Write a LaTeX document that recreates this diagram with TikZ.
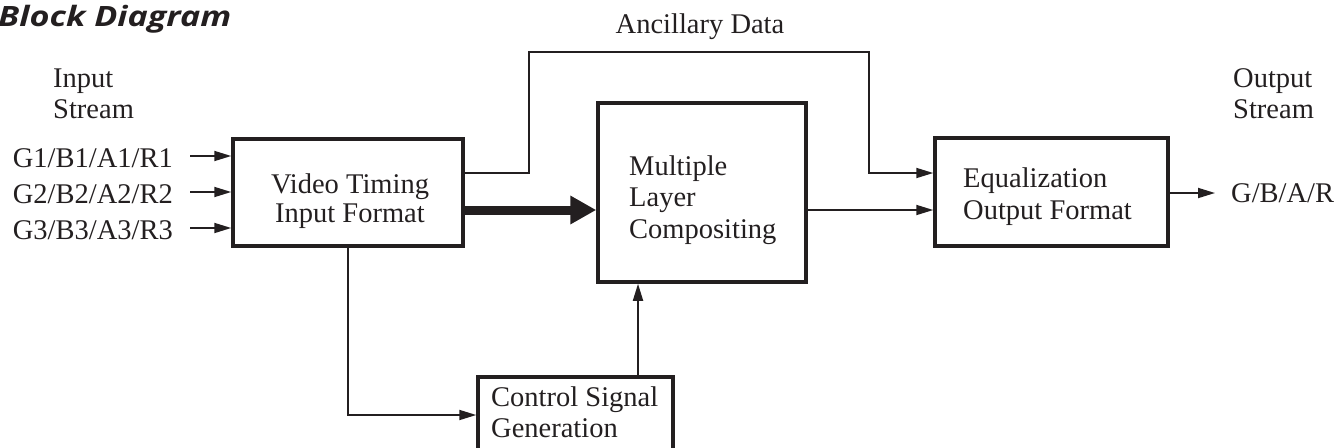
\documentclass[tikz,border=0pt]{standalone}
\usepackage{fontspec}
\setmainfont{Liberation Serif}
\newfontfamily\titlefont{Open Sans}
\usetikzlibrary{arrows.meta}
\definecolor{ink}{RGB}{35,31,32}
\begin{document}
\begin{tikzpicture}[x=1pt,y=-1pt,
  every node/.style={font=\fontsize{28.5}{31}\selectfont, text=ink, inner sep=0pt},
  box/.style={draw=ink, line width=3.5pt, rectangle, inner sep=0pt},
  wire/.style={draw=ink, line width=1.8pt, -{Triangle[length=17pt,width=10pt]}},
  bigarrow/.style={draw=ink, line width=9pt, -{Triangle[length=26pt,width=27pt]}},
  lbl/.style={anchor=base west}]
\useasboundingbox (0,0) rectangle (1337,447);

% title
\node[anchor=base west, xscale=1.22, font=\titlefont\bfseries\itshape\fontsize{28}{30}\selectfont] (title) at (-2,27) {Block Diagram};

% boxes
\node[box, minimum width=230pt, minimum height=107pt] (vt) at (348,192.5) {};
\node[box, minimum width=208pt, minimum height=179pt] (mlc) at (702,192.5) {};
\node[box, minimum width=233pt, minimum height=108pt] (eq) at (1051.5,192) {};
\node[box, minimum width=195pt, minimum height=93pt] (csg) at (575.5,423.5) {};

% box texts
\node[anchor=base] (vt1) at (350,193) {Video Timing};
\node[anchor=base] (vt2) at (350,222) {Input Format};
\node[lbl] (m1) at (629,175) {Multiple};
\node[lbl] (m2) at (629,206) {Layer};
\node[lbl] (m3) at (629,238) {Compositing};
\node[lbl] (e1) at (963,187) {Equalization};
\node[lbl] (e2) at (963,219) {Output Format};
\node[lbl] (c1) at (491,406) {Control Signal};
\node[lbl] (c2) at (491,437) {Generation};

% outside labels
\node[lbl] (is1) at (53,87) {Input};
\node[lbl] (is2) at (53,118) {Stream};
\node[lbl] (os1) at (1233,87) {Output};
\node[lbl] (os2) at (1233,118) {Stream};
\node[anchor=base] (anc) at (700,33) {Ancillary Data};
\node[anchor=base east] (g1) at (173,167) {G1/B1/A1/R1};
\node[anchor=base east] (g2) at (173,203) {G2/B2/A2/R2};
\node[anchor=base east] (g3) at (173,239) {G3/B3/A3/R3};
\node[lbl] (out) at (1231,202) {G/B/A/R};

% coordinates
\coordinate (i1) at (190,156);
\coordinate (i2) at (190,192);
\coordinate (i3) at (190,228);
\coordinate (a0) at (0,173);
\coordinate (a1) at (529,173);
\coordinate (a2) at (529,52);
\coordinate (a3) at (869,52);
\coordinate (a4) at (869,173);
\coordinate (t0) at (0,210);
\coordinate (o0) at (0,193);
\coordinate (oend) at (1215,193);
\coordinate (c0) at (0,415);
\coordinate (cx) at (638,0);

% connectors
\draw[wire] (i1) -- (i1 -| vt.west);
\draw[wire] (i2) -- (i2 -| vt.west);
\draw[wire] (i3) -- (i3 -| vt.west);
\draw[wire] (vt.east |- a0) -- (a1) -- (a2) -- (a3) -- (a4) -- (eq.west |- a0);
\draw[bigarrow] (vt.east |- t0) -- (mlc.west |- t0);
\draw[wire] (mlc.east |- t0) -- (eq.west |- t0);
\draw[wire] (eq.east |- o0) -- (oend);
\draw[wire] (vt.south) |- (csg.west |- c0);
\draw[wire] (csg.north -| cx) -- (mlc.south -| cx);
\end{tikzpicture}
\end{document}
